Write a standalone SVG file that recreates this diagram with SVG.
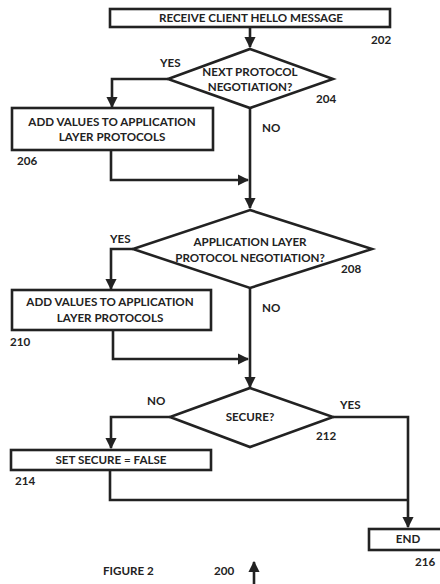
<svg xmlns="http://www.w3.org/2000/svg" width="440" height="584" viewBox="0 0 440 584">
  <defs>
    <marker id="arrow" viewBox="0 0 10 10" refX="9" refY="5" markerWidth="4.4" markerHeight="4.4" orient="auto" markerUnits="strokeWidth">
      <path d="M0,0 L10,5 L0,10 z" fill="#222"/>
    </marker>
  </defs>
  <style>
    .shape { fill: #fff; stroke: #222; stroke-width: 2.6; }
    .link { fill: none; stroke: #222; stroke-width: 2.6; }
    text { font-family: Lato, "Open Sans", "Liberation Sans", sans-serif; font-weight: bold; font-size: 11.6px; fill: #222; }
    .c { text-anchor: middle; }
  </style>
  <rect width="440" height="584" fill="#fff"/>

  <g id="connectors">
    <path class="link" d="M250,28 L250,47" marker-end="url(#arrow)"/>
    <path class="link" d="M168,79 L112,79 L112,107" marker-end="url(#arrow)"/>
    <path class="link" d="M111,150 L111,180 L248,180" marker-end="url(#arrow)"/>
    <path class="link" d="M250,108 L250,208" marker-end="url(#arrow)"/>
    <path class="link" d="M133,249 L111,249 L111,289" marker-end="url(#arrow)"/>
    <path class="link" d="M113,330 L113,359 L248,359" marker-end="url(#arrow)"/>
    <path class="link" d="M250,288 L250,387" marker-end="url(#arrow)"/>
    <path class="link" d="M170,417 L111,417 L111,448" marker-end="url(#arrow)"/>
    <path class="link" d="M333,417 L408,417 L408,527" marker-end="url(#arrow)"/>
    <path class="link" d="M110,470 L110,500 L408,500"/>
    <path class="link" d="M254,584 L254,562" marker-end="url(#arrow)"/>
  </g>

  <g id="n202">
    <rect class="shape" x="110" y="9" width="280" height="18"/>
    <text class="c" x="251" y="22">RECEIVE CLIENT HELLO MESSAGE</text>
    <text x="371" y="44">202</text>
  </g>

  <g id="n204">
    <polygon class="shape" points="250,49 333,79 250,108 168,79"/>
    <text class="c" x="250" y="76">NEXT PROTOCOL</text>
    <text class="c" x="250" y="91">NEGOTIATION?</text>
    <text x="316" y="103">204</text>
    <text x="160" y="67">YES</text>
    <text x="262" y="132">NO</text>
  </g>

  <g id="n206">
    <rect class="shape" x="12" y="108" width="201" height="42"/>
    <text class="c" x="112" y="126">ADD VALUES TO APPLICATION</text>
    <text class="c" x="112" y="141">LAYER PROTOCOLS</text>
    <text x="17" y="165">206</text>
  </g>

  <g id="n208">
    <polygon class="shape" points="250,210 372,249 250,288 133,249"/>
    <text class="c" x="250" y="246">APPLICATION LAYER</text>
    <text class="c" x="250" y="262">PROTOCOL NEGOTIATION?</text>
    <text x="341" y="273">208</text>
    <text x="110" y="243">YES</text>
    <text x="262" y="312">NO</text>
  </g>

  <g id="n210">
    <rect class="shape" x="12" y="290" width="199" height="40"/>
    <text class="c" x="110" y="306">ADD VALUES TO APPLICATION</text>
    <text class="c" x="110" y="322">LAYER PROTOCOLS</text>
    <text x="10" y="346">210</text>
  </g>

  <g id="n212">
    <polygon class="shape" points="250,388 333,417 250,447 170,417"/>
    <text class="c" x="250" y="421">SECURE?</text>
    <text x="316" y="440">212</text>
    <text x="147" y="405">NO</text>
    <text x="340" y="409">YES</text>
  </g>

  <g id="n214">
    <rect class="shape" x="11" y="450" width="200" height="20"/>
    <text class="c" x="111" y="464">SET SECURE = FALSE</text>
    <text x="15" y="485">214</text>
  </g>

  <g id="n216">
    <rect class="shape" x="369" y="529" width="80" height="21"/>
    <text class="c" x="408" y="543">END</text>
    <text x="415" y="566">216</text>
  </g>

  <g id="caption">
    <text x="103" y="575">FIGURE 2</text>
    <text x="214" y="575">200</text>
  </g>
</svg>
